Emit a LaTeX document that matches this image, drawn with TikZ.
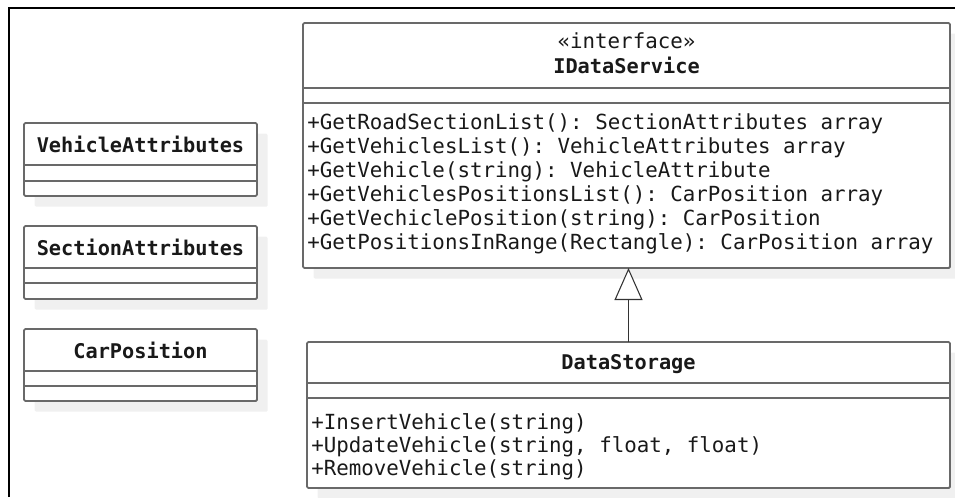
\documentclass[tikz,border=0pt]{standalone}
\usepackage{fontspec}
\setmonofont{DejaVu Sans Mono}
\usetikzlibrary{arrows.meta,shadows}

\definecolor{boxline}{RGB}{105,105,105}
\definecolor{shade}{RGB}{240,240,240}

\tikzset{
  classbox/.style={draw=boxline, line width=1.4pt, fill=white, rounded corners=1pt,
    inner sep=0pt, outer sep=0pt,
    drop shadow={shadow xshift=8pt, shadow yshift=-8pt, fill=shade, opacity=1}},
  sepline/.style={draw=boxline, line width=1.4pt},
  umltext/.style={inner sep=0pt, font=\fontsize{15.6pt}{18pt}\selectfont\ttfamily, text=black!90},
  cname/.style={umltext, font=\fontsize{15.2pt}{18pt}\selectfont\ttfamily\bfseries},
  member/.style={umltext, anchor=west},
  realize/.style={-{Triangle[open, length=24pt, width=21pt, fill=white]},
    line width=0.8pt, draw=black!80},
  frameline/.style={draw=black, line width=1.1pt}
}

\begin{document}
\begin{tikzpicture}[x=0.75pt, y=-0.75pt]
  \useasboundingbox (0,0) rectangle (955,497);

  % page frame (top and left rules)
  \coordinate (fl) at (9,497);
  \coordinate (fc) at (9,8);
  \coordinate (fr) at (955,8);
  \draw[frameline] (fl) -- (fc) -- (fr);

  % small data classes on the left
  \node[classbox, minimum width=174.75pt, minimum height=54.75pt] (va) at (140.5,159.5) {};
  \draw[sepline] (va.west |- 0,165) -- (va.east |- 0,165);
  \draw[sepline] (va.west |- 0,181) -- (va.east |- 0,181);
  \node[cname] (vaname) at (140.5,144) {VehicleAttributes};

  \node[classbox, minimum width=174.75pt, minimum height=54.75pt] (sa) at (140.5,262.5) {};
  \draw[sepline] (sa.west |- 0,268) -- (sa.east |- 0,268);
  \draw[sepline] (sa.west |- 0,283) -- (sa.east |- 0,283);
  \node[cname] (saname) at (140.5,247) {SectionAttributes};

  \node[classbox, minimum width=174.75pt, minimum height=54pt] (cp) at (140.5,365) {};
  \draw[sepline] (cp.west |- 0,371) -- (cp.east |- 0,371);
  \draw[sepline] (cp.west |- 0,386) -- (cp.east |- 0,386);
  \node[cname] (cpname) at (140.5,350) {CarPosition};

  % interface
  \node[classbox, minimum width=485.25pt, minimum height=183.75pt] (ids) at (626.5,145.5) {};
  \draw[sepline] (ids.west |- 0,88) -- (ids.east |- 0,88);
  \draw[sepline] (ids.west |- 0,103) -- (ids.east |- 0,103);
  \node[umltext] (stereo) at (626.5,41) {«interface»};
  \node[cname] (idsname) at (626.5,65) {IDataService};
  \node[member] (m1) at (307,124) {+GetRoadSectionList(): SectionAttributes array};
  \node[member] (m2) at (307,148) {+GetVehiclesList(): VehicleAttributes array};
  \node[member] (m3) at (307,172) {+GetVehicle(string): VehicleAttribute};
  \node[member] (m4) at (307,196) {+GetVehiclesPositionsList(): CarPosition array};
  \node[member] (m5) at (307,220) {+GetVechiclePosition(string): CarPosition};
  \node[member] (m6) at (307,244) {+GetPositionsInRange(Rectangle): CarPosition array};

  % implementing class
  \node[classbox, minimum width=482.25pt, minimum height=109.5pt] (ds) at (628.5,415) {};
  \draw[sepline] (ds.west |- 0,383) -- (ds.east |- 0,383);
  \draw[sepline] (ds.west |- 0,398) -- (ds.east |- 0,398);
  \node[cname] (dsname) at (628.5,364) {DataStorage};
  \node[member] (d1) at (311,424) {+InsertVehicle(string)};
  \node[member] (d2) at (311,447) {+UpdateVehicle(string, float, float)};
  \node[member] (d3) at (311,470) {+RemoveVehicle(string)};

  % realization
  \draw[realize] (ds.north) -- (ds.north |- ids.south);
\end{tikzpicture}
\end{document}
